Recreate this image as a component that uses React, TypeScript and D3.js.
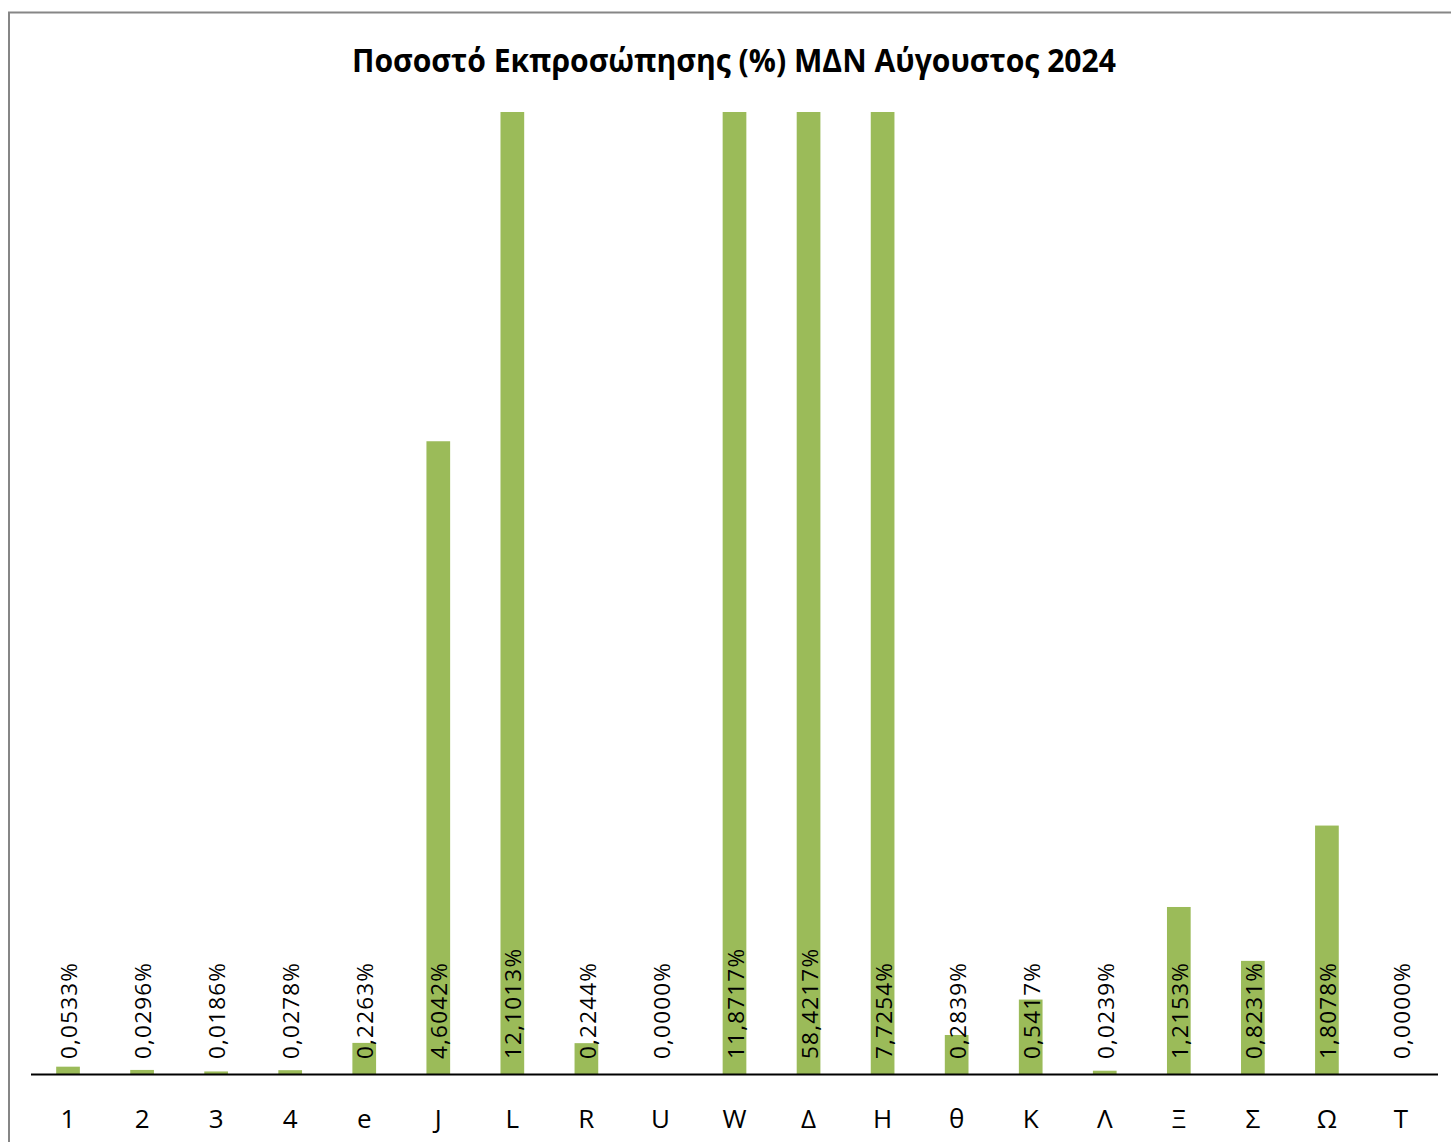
import React from "react";
import * as d3 from "d3";

const title = "Ποσοστό Εκπροσώπησης (%) ΜΔΝ Αύγουστος 2024";
const categories = ["1", "2", "3", "4", "e", "J", "L", "R", "U", "W", "Δ", "Η", "θ", "Κ", "Λ", "Ξ", "Σ", "Ω", "Τ"];
const values = [0.0533, 0.0296, 0.0186, 0.0278, 0.2263, 4.6042, 12.1013, 0.2244, 0.0, 11.8717, 58.4217, 7.7254, 0.2839, 0.5417, 0.0239, 1.2153, 0.8231, 1.8078, 0.0];
const yDomain = [0, 7];

const W = 1451;
const H = 1142;

export default function App() {
  const x = d3.scaleBand<string>().domain(categories).range([31, 1438]).paddingInner(0.68).paddingOuter(0.34);
  const y = d3.scaleLinear().domain(yDomain).range([1074, 112]).clamp(true);
  const fmt = (v: number) => v.toFixed(4).replace(".", ",") + "%";
  const font = "'Open Sans', 'Liberation Sans', sans-serif";
  return (
    <div style={{ position: "absolute", left: 0, top: 0 }}>
      <svg width={W} height={H} style={{ display: "block", background: "#fff" }}>
        <rect x={9} y={12.5} width={W + 20} height={H + 20} fill="#fff" stroke="#868686" strokeWidth={2} />
        <text x={734} y={72} textAnchor="middle" fontFamily={font} fontWeight={700} fontSize={33} textLength={764} lengthAdjust="spacingAndGlyphs" fill="#000">
          {title}
        </text>
        {categories.map((c, i) => {
          const bx = x(c)!;
          const v = values[i];
          return (
            <rect key={"b" + c} x={bx} y={y(v)} width={x.bandwidth()} height={y(0) - y(v)} fill="#9BBB59" />
          );
        })}
        <line x1={31} x2={1438} y1={1074.5} y2={1074.5} stroke="#000" strokeWidth={2.2} />
        {categories.map((c, i) => {
          const cx = x(c)! + x.bandwidth() / 2;
          return (
            <text
              key={"l" + c}
              transform={`translate(${cx + 1},1059) rotate(-90)`}
              dy="0.36em"
              fontFamily={font}
              fontSize={22.5}
              letterSpacing={1.2}
              fill="#000"
            >
              {fmt(values[i])}
            </text>
          );
        })}
        {categories.map((c) => {
          const cx = x(c)! + x.bandwidth() / 2;
          return (
            <text key={"c" + c} x={cx} y={1128} textAnchor="middle" fontFamily={font} fontSize={26} fill="#000">
              {c}
            </text>
          );
        })}
      </svg>
    </div>
  );
}
